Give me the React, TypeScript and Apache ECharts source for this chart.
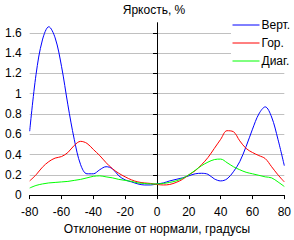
import React, { useEffect, useRef } from "react";
import * as echarts from "echarts";

const angles = [-80, -76, -72, -68, -64, -60, -56, -52, -48, -44, -40, -36, -32, -28, -24, -20, -16, -12, -8, -4, 0, 4, 8, 12, 16, 20, 24, 28, 32, 36, 40, 44, 48, 52, 56, 60, 64, 68, 72, 76, 80];

const vert = [0.63, 1.19, 1.53, 1.66, 1.55, 1.27, 0.89, 0.55, 0.3, 0.21, 0.21, 0.25, 0.28, 0.26, 0.19, 0.15, 0.13, 0.11, 0.1, 0.1, 0.11, 0.12, 0.14, 0.155, 0.17, 0.19, 0.21, 0.215, 0.205, 0.16, 0.14, 0.16, 0.23, 0.33, 0.48, 0.65, 0.8, 0.87, 0.77, 0.55, 0.29];

const gor = [0.14, 0.2, 0.275, 0.33, 0.365, 0.38, 0.42, 0.49, 0.53, 0.51, 0.45, 0.39, 0.32, 0.26, 0.215, 0.18, 0.15, 0.13, 0.12, 0.115, 0.105, 0.1, 0.105, 0.125, 0.155, 0.2, 0.24, 0.3, 0.37, 0.46, 0.55, 0.635, 0.625, 0.535, 0.46, 0.42, 0.39, 0.36, 0.28, 0.2, 0.13];

const diag = [0.07, 0.095, 0.11, 0.12, 0.125, 0.13, 0.135, 0.145, 0.155, 0.17, 0.185, 0.19, 0.18, 0.17, 0.155, 0.145, 0.135, 0.12, 0.115, 0.11, 0.11, 0.115, 0.125, 0.14, 0.165, 0.2, 0.245, 0.29, 0.325, 0.35, 0.355, 0.32, 0.28, 0.25, 0.225, 0.21, 0.195, 0.18, 0.17, 0.13, 0.085];

const seriesNames = ["Верт.", "Гор.", "Диаг."];
const seriesColors = ["#0000ff", "#ff0000", "#00ff00"];
const yTicks = [0, 0.2, 0.4, 0.6, 0.8, 1, 1.2, 1.4, 1.6];

const FONT = "'Liberation Sans', Arial, sans-serif";

export default function App() {
  const ref = useRef<HTMLDivElement>(null);
  useEffect(() => {
    if (!ref.current) return;
    const chart = echarts.init(ref.current, null, { renderer: "svg" });
    const all = [vert, gor, diag];
    chart.setOption({
      animation: false,
      backgroundColor: "#ffffff",
      textStyle: { fontFamily: FONT, fontSize: 12, color: "#000" },
      grid: { left: 9, right: 5, top: 22.7, bottom: 41, containLabel: false },
      legend: {
        orient: "vertical",
        left: 231,
        top: 16,
        padding: [3, 4, 3, 1],
        itemWidth: 27,
        itemHeight: 12,
        itemGap: 6,
        backgroundColor: "#ffffff",
        itemStyle: { opacity: 0 },
        lineStyle: { width: 1 },
        textStyle: { fontFamily: FONT, fontSize: 12, color: "#000", padding: [0, 0, 0, -3] },
        data: seriesNames,
      },
      xAxis: {
        type: "value",
        min: -80,
        max: 80,
        interval: 20,
        name: "Отклонение от нормали, градусы",
        nameLocation: "middle",
        nameGap: 25,
        nameTextStyle: { fontFamily: FONT, fontSize: 12, color: "#000" },
        axisLine: { show: true, lineStyle: { color: "#000", width: 1 } },
        axisTick: { show: true, length: 4, lineStyle: { color: "#000" } },
        axisLabel: { fontFamily: FONT, fontSize: 12, color: "#000", margin: 11 },
        splitLine: { show: false },
      },
      yAxis: {
        type: "value",
        min: 0,
        max: 1.7,
        interval: 0.2,
        name: "Яркость, %",
        nameLocation: "end",
        nameGap: 7,
        nameTextStyle: { fontFamily: FONT, fontSize: 12, color: "#000", padding: [0, 6, 0, 0] },
        axisLine: { show: true, onZero: true, lineStyle: { color: "#000", width: 1 } },
        axisTick: { show: true, length: 4, lineStyle: { color: "#000" }, customValues: yTicks },
        axisLabel: {
          fontFamily: FONT,
          fontSize: 12,
          color: "#000",
          margin: 7,
          backgroundColor: "#ffffff",
          padding: [0, 1, 0, 2],
          customValues: yTicks,
        },
        splitLine: {
          show: true,
          lineStyle: {
            color: ["#c0c0c0", "#c0c0c0", "#c0c0c0", "#c0c0c0", "#c0c0c0", "#c0c0c0", "#c0c0c0", "#c0c0c0", "#c0c0c0", "rgba(0,0,0,0)"],
            width: 1,
          },
        },
      },
      series: seriesNames.map((name, i) => ({
        name,
        type: "line",
        smooth: 0.35,
        symbol: "none",
        color: seriesColors[i],
        lineStyle: { color: seriesColors[i], width: 1 },
        data: angles.map((a, j) => [a, all[i][j]]),
      })),
    });
    return () => chart.dispose();
  }, []);
  return <div ref={ref} style={{ position: "fixed", left: 0, top: 0, width: 294, height: 240 }} />;
}
